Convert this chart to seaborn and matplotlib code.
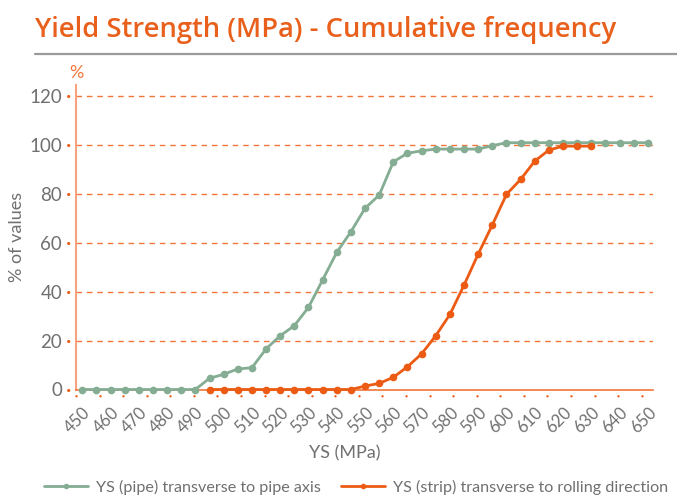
import numpy as np
import pandas as pd
import matplotlib
matplotlib.use('Agg')
import matplotlib.pyplot as plt
from matplotlib.path import Path
from matplotlib.markers import MarkerStyle
from matplotlib.lines import Line2D
import seaborn as sns

# Chart data
pipe_ys = list(range(450, 655, 5))
pipe_pct = [0, 0, 0, 0, 0, 0, 0, 0, 0,
            4.6, 6.2, 8.4, 8.9, 16.6, 22.0, 26.1, 33.6, 44.8, 56.1,
            64.5, 74.1, 79.5, 93.1, 96.6, 97.6,
            98.3, 98.3, 98.3, 98.3, 99.7,
            100.9, 100.9, 100.9, 100.9, 100.9, 100.9, 100.9, 100.9, 100.9, 100.9, 100.9]

strip_ys = list(range(495, 635, 5))
strip_pct = [0, 0, 0, 0, 0, 0, 0, 0, 0, 0, 0,
             1.4, 2.5, 5.0, 9.3, 14.6, 22.0, 30.7, 42.7, 55.4, 67.3,
             79.8, 85.9, 93.4, 97.9, 99.5, 99.5, 99.5]

series_names = ['YS (pipe) transverse to pipe axis',
                'YS (strip) transverse to rolling direction']
x_tick_labels = list(range(450, 660, 10))
y_tick_labels = [0, 20, 40, 60, 80, 100, 120]

GREEN = '#84ad93'
ORANGE = '#ec5b13'
GRID = '#f2763a'
TEXT = '#707070'

df = pd.concat([
    pd.DataFrame({'YS': pipe_ys, 'pct': pipe_pct, 'series': series_names[0]}),
    pd.DataFrame({'YS': strip_ys, 'pct': strip_pct, 'series': series_names[1]}),
])

sns.set_theme(style='white')
plt.rcParams['font.family'] = ['Lato', 'DejaVu Sans']

fig = plt.figure(figsize=(6.77, 4.95), dpi=100)
ax = fig.add_axes([76 / 677, 1 - 389.5 / 495, 577 / 677, 304.5 / 495])

sns.lineplot(data=df, x='YS', y='pct', hue='series',
             palette=[GREEN, ORANGE], marker='o', markersize=5.5,
             markeredgewidth=0, linewidth=2, clip_on=False,
             legend=False, ax=ax, zorder=3)

ax.set_xlim(447.8, 651.8)
ax.set_ylim(0, 124.5)

# dashed horizontal grid
for v in y_tick_labels[1:]:
    ax.axhline(v, color=GRID, lw=1, ls=(0, (4, 3.5)), zorder=1)

for s in ['top', 'right']:
    ax.spines[s].set_visible(False)
ax.spines['left'].set_color('#f6a27e')
ax.spines['left'].set_linewidth(1.5)
ax.spines['bottom'].set_color(GRID)
ax.spines['bottom'].set_linewidth(1.2)

ax.set_yticks(y_tick_labels)
ax.set_yticklabels([str(v) for v in y_tick_labels])
ax.set_xticks(x_tick_labels)
ax.set_xticklabels([str(v) for v in x_tick_labels], rotation=45,
                   ha='right', va='top', rotation_mode='anchor')
ax.set_xticks(np.linspace(447.8, 647.8, 25), minor=True)

ax.tick_params(axis='y', left=True, length=0, pad=10, labelsize=13.5, labelcolor=TEXT)
ax.tick_params(axis='x', which='major', bottom=False, length=0, pad=11,
               labelsize=12, labelcolor=TEXT)
ax.tick_params(axis='x', which='minor', bottom=True, length=0)

# little dot tick marks, set off from the spines
ydot = MarkerStyle(Path.circle((-3, 0), 0.6))
xdot = MarkerStyle(Path.circle((0, -3), 0.6))
for t in ax.yaxis.get_major_ticks():
    t.tick1line.set_visible(True)
    t.tick1line.set_marker(ydot)
    t.tick1line.set_markersize(13.5)
    t.tick1line.set_markerfacecolor(ORANGE)
    t.tick1line.set_markeredgewidth(0)
for t in ax.xaxis.get_minor_ticks():
    t.tick1line.set_visible(True)
    t.tick1line.set_marker(xdot)
    t.tick1line.set_markersize(10)
    t.tick1line.set_markerfacecolor(ORANGE)
    t.tick1line.set_markeredgewidth(0)

ax.set_ylabel('% of values', color=TEXT, fontsize=13)
ax.yaxis.set_label_coords(-0.088, 0.5)
ax.set_xlabel('YS (MPa)', color=TEXT, fontsize=13)
ax.xaxis.set_label_coords(0.466, -0.2085)
ax.xaxis.label.set_va('center')

# title, rule and unit
fig.text(35 / 677, 1 - 37 / 495, 'Yield Strength (MPa) - Cumulative frequency',
         color='#e8601c', fontsize=19.7, fontweight='semibold',
         family=['Open Sans', 'DejaVu Sans'], va='baseline')
fig.add_artist(Line2D([35 / 677, 1], [1 - 54 / 495] * 2, color='#9a9a9a', lw=1.6))
fig.text(76.7 / 677, 1 - 73 / 495, '%', color=GRID, fontsize=13, ha='center', va='center')

handles = [Line2D([], [], color=GREEN, lw=2, marker='o', markersize=4, markeredgewidth=0),
           Line2D([], [], color=ORANGE, lw=2, marker='o', markersize=4, markeredgewidth=0)]
fig.legend(handles, series_names, loc='center left',
           bbox_to_anchor=(44 / 677, 1 - 487 / 495), ncol=2, frameon=False,
           fontsize=11.6, labelcolor=TEXT, handlelength=2.7, handletextpad=0.5,
           columnspacing=1.3, borderaxespad=0, borderpad=0)

fig.savefig('out.png', dpi=100)
plt.close(fig)
